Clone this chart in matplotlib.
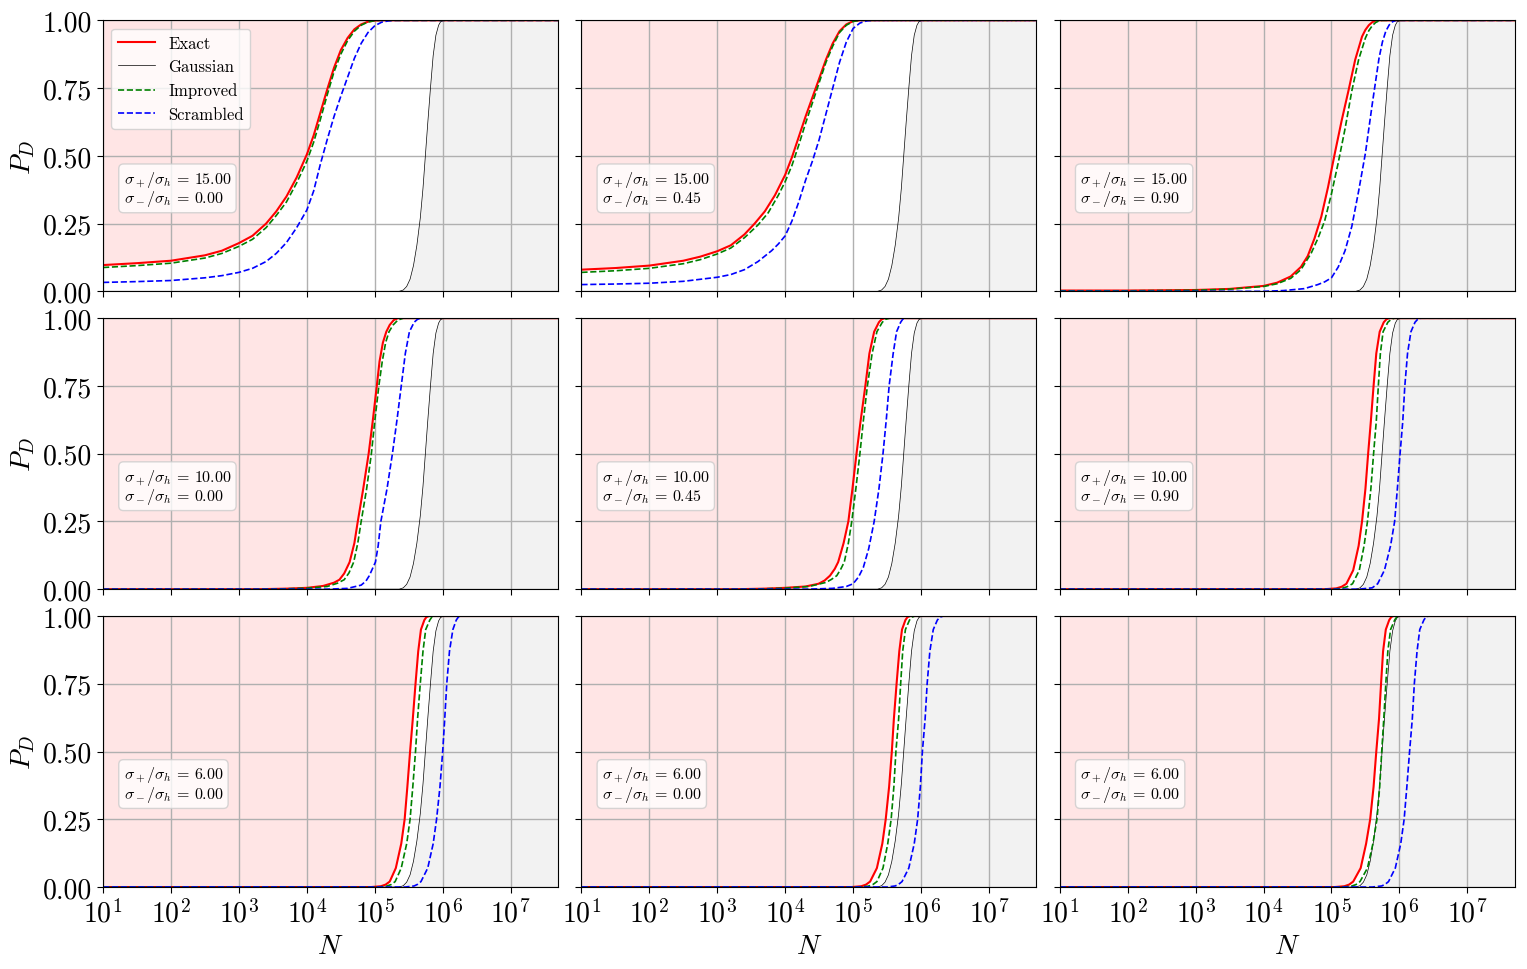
import numpy as np
import matplotlib
matplotlib.use("Agg")
import matplotlib.pyplot as plt
from matplotlib.ticker import FixedLocator, FormatStrFormatter

plt.rcParams["mathtext.fontset"] = "cm"
plt.rcParams["font.family"] = "serif"
plt.rcParams["font.serif"] = ["cmr10"]
plt.rcParams["axes.formatter.use_mathtext"] = True
plt.rcParams["axes.unicode_minus"] = False

# curves, (log10 N, P_D)
gaussian = [(1.0, 0.0), (5.36, 0.0), (5.42, 0.005), (5.47, 0.018), (5.52, 0.045), (5.57, 0.095),
            (5.62, 0.17), (5.67, 0.27), (5.71, 0.38), (5.745, 0.5), (5.78, 0.62), (5.82, 0.75),
            (5.86, 0.87), (5.9, 0.945), (5.94, 0.982), (5.97, 0.995), (6.02, 1.0), (7.7, 1.0)]

# row 1: sigma+/sigma_h = 15
exact_r1c1 = [(1.0, 0.097), (1.5, 0.104), (2.0, 0.113), (2.5, 0.133), (2.75, 0.15), (3.0, 0.178),
              (3.2, 0.205), (3.4, 0.25), (3.55, 0.295), (3.7, 0.35), (3.85, 0.42), (4.0, 0.505),
              (4.1, 0.575), (4.2, 0.66), (4.3, 0.745), (4.4, 0.825), (4.5, 0.89), (4.6, 0.935),
              (4.7, 0.967), (4.8, 0.985), (4.9, 0.995), (5.0, 0.999), (5.1, 1.0), (7.7, 1.0)]
improved_r1c1 = [(1.0, 0.088), (1.5, 0.095), (2.0, 0.104), (2.5, 0.123), (2.75, 0.14), (3.0, 0.166),
                 (3.2, 0.192), (3.4, 0.235), (3.55, 0.28), (3.7, 0.33), (3.85, 0.40), (4.0, 0.48),
                 (4.1, 0.55), (4.2, 0.635), (4.3, 0.725), (4.4, 0.81), (4.5, 0.875), (4.6, 0.925),
                 (4.7, 0.96), (4.8, 0.982), (4.9, 0.994), (5.0, 0.999), (5.1, 1.0), (7.7, 1.0)]
scrambled_r1c1 = [(1.0, 0.033), (1.5, 0.036), (2.0, 0.04), (2.5, 0.05), (2.75, 0.058), (3.0, 0.07),
                  (3.2, 0.085), (3.4, 0.11), (3.55, 0.14), (3.7, 0.18), (3.85, 0.235), (4.0, 0.3),
                  (4.1, 0.37), (4.2, 0.47), (4.3, 0.56), (4.4, 0.645), (4.5, 0.72), (4.6, 0.79),
                  (4.7, 0.86), (4.8, 0.915), (4.9, 0.955), (5.0, 0.98), (5.1, 0.993), (5.2, 0.998),
                  (5.3, 1.0), (7.7, 1.0)]

exact_r1c2 = [(1.0, 0.08), (1.5, 0.086), (2.0, 0.095), (2.5, 0.113), (2.75, 0.128), (3.0, 0.148),
              (3.2, 0.17), (3.4, 0.21), (3.55, 0.25), (3.7, 0.295), (3.85, 0.355), (4.0, 0.43),
              (4.1, 0.495), (4.2, 0.57), (4.3, 0.645), (4.4, 0.715), (4.5, 0.785), (4.6, 0.855),
              (4.7, 0.915), (4.8, 0.96), (4.9, 0.985), (5.0, 0.997), (5.1, 1.0), (7.7, 1.0)]
improved_r1c2 = [(1.0, 0.07), (1.5, 0.076), (2.0, 0.085), (2.5, 0.102), (2.75, 0.117), (3.0, 0.138),
                 (3.2, 0.16), (3.4, 0.198), (3.6, 0.245), (3.75, 0.29), (3.9, 0.355), (4.0, 0.405),
                 (4.1, 0.465), (4.2, 0.54), (4.3, 0.62), (4.4, 0.695), (4.5, 0.77), (4.6, 0.845),
                 (4.7, 0.905), (4.8, 0.955), (4.9, 0.982), (5.0, 0.996), (5.1, 1.0), (7.7, 1.0)]
scrambled_r1c2 = [(1.0, 0.025), (1.5, 0.027), (2.0, 0.03), (2.5, 0.037), (3.0, 0.052), (3.2, 0.062),
                  (3.4, 0.08), (3.6, 0.11), (3.8, 0.15), (3.9, 0.175), (4.0, 0.205), (4.1, 0.26),
                  (4.2, 0.33), (4.3, 0.41), (4.4, 0.48), (4.5, 0.56), (4.6, 0.655), (4.7, 0.75),
                  (4.8, 0.845), (4.9, 0.92), (5.0, 0.97), (5.1, 0.99), (5.2, 0.998), (5.3, 1.0),
                  (7.7, 1.0)]

exact_r1c3 = [(1.0, 0.003), (2.0, 0.003), (3.0, 0.005), (3.5, 0.009), (4.0, 0.02), (4.2, 0.032),
              (4.4, 0.055), (4.55, 0.09), (4.65, 0.13), (4.75, 0.195), (4.85, 0.275), (4.95, 0.385),
              (5.05, 0.51), (5.15, 0.63), (5.25, 0.74), (5.35, 0.855), (5.45, 0.94), (5.5, 0.965),
              (5.55, 0.982), (5.6, 0.993), (5.65, 0.999), (5.7, 1.0), (7.7, 1.0)]
improved_r1c3 = [(1.0, 0.002), (2.0, 0.002), (3.0, 0.004), (3.5, 0.008), (4.0, 0.018), (4.2, 0.028),
                 (4.4, 0.048), (4.55, 0.08), (4.7, 0.14), (4.8, 0.195), (4.9, 0.26), (5.0, 0.36),
                 (5.1, 0.475), (5.2, 0.6), (5.3, 0.74), (5.4, 0.855), (5.5, 0.935), (5.55, 0.962),
                 (5.6, 0.98), (5.65, 0.992), (5.7, 0.998), (5.75, 1.0), (7.7, 1.0)]
scrambled_r1c3 = [(1.0, 0.0), (4.0, 0.0), (4.3, 0.003), (4.6, 0.01), (4.8, 0.025), (4.9, 0.035),
                  (5.0, 0.05), (5.1, 0.09), (5.2, 0.15), (5.3, 0.24), (5.4, 0.37), (5.5, 0.51),
                  (5.6, 0.69), (5.7, 0.86), (5.75, 0.92), (5.8, 0.96), (5.85, 0.983), (5.9, 0.995),
                  (5.95, 1.0), (7.7, 1.0)]

# row 2: sigma+/sigma_h = 10
exact_r2c1 = [(1.0, 0.0), (3.3, 0.0), (3.7, 0.002), (4.0, 0.005), (4.24, 0.012), (4.4, 0.024),
              (4.48, 0.035), (4.55, 0.058), (4.63, 0.1), (4.7, 0.17), (4.75, 0.25), (4.83, 0.37),
              (4.91, 0.5), (4.97, 0.62), (5.03, 0.75), (5.07, 0.84), (5.12, 0.91), (5.17, 0.95),
              (5.22, 0.975), (5.28, 0.993), (5.34, 1.0), (7.7, 1.0)]
improved_r2c1 = [(1.0, 0.0), (3.3, 0.0), (3.7, 0.0015), (4.0, 0.004), (4.3, 0.01), (4.45, 0.022),
                 (4.55, 0.035), (4.62, 0.06), (4.69, 0.1), (4.75, 0.17), (4.8, 0.25), (4.88, 0.37),
                 (4.95, 0.5), (5.0, 0.62), (5.06, 0.75), (5.11, 0.84), (5.16, 0.91), (5.21, 0.95),
                 (5.27, 0.975), (5.34, 0.993), (5.42, 1.0), (7.7, 1.0)]
scrambled_r2c1 = [(1.0, 0.0), (4.3, 0.0), (4.6, 0.003), (4.8, 0.015), (4.87, 0.03), (4.92, 0.05),
                  (5.01, 0.1), (5.05, 0.16), (5.09, 0.25), (5.18, 0.37), (5.26, 0.5), (5.33, 0.63),
                  (5.39, 0.75), (5.45, 0.87), (5.51, 0.95), (5.58, 0.985), (5.63, 0.996),
                  (5.68, 1.0), (7.7, 1.0)]

exact_r2c2 = [(1.0, 0.0), (3.3, 0.0), (3.7, 0.002), (4.0, 0.005), (4.3, 0.01), (4.49, 0.02),
              (4.58, 0.032), (4.66, 0.05), (4.73, 0.075), (4.78, 0.1), (4.86, 0.17), (4.93, 0.25),
              (4.99, 0.37), (5.05, 0.5), (5.11, 0.62), (5.18, 0.75), (5.24, 0.87), (5.31, 0.95),
              (5.38, 0.985), (5.42, 0.996), (5.47, 1.0), (7.7, 1.0)]
improved_r2c2 = [(1.0, 0.0), (3.3, 0.0), (3.7, 0.0015), (4.0, 0.004), (4.35, 0.01), (4.6, 0.025),
                 (4.68, 0.036), (4.76, 0.05), (4.82, 0.075), (4.87, 0.1), (4.93, 0.17), (4.98, 0.25),
                 (5.04, 0.37), (5.10, 0.5), (5.15, 0.62), (5.21, 0.75), (5.28, 0.87), (5.35, 0.95),
                 (5.43, 0.985), (5.48, 0.996), (5.54, 1.0), (7.7, 1.0)]
scrambled_r2c2 = [(1.0, 0.0), (4.3, 0.0), (4.7, 0.003), (4.9, 0.01), (5.0, 0.02), (5.08, 0.045),
                  (5.15, 0.08), (5.23, 0.15), (5.31, 0.25), (5.38, 0.37), (5.44, 0.5), (5.49, 0.63),
                  (5.53, 0.75), (5.59, 0.87), (5.64, 0.95), (5.7, 0.985), (5.73, 0.996),
                  (5.77, 1.0), (7.7, 1.0)]

exact_r2c3 = [(1.0, 0.0), (4.9, 0.0), (5.07, 0.003), (5.15, 0.009), (5.22, 0.02), (5.32, 0.07),
              (5.4, 0.16), (5.45, 0.25), (5.5, 0.37), (5.54, 0.5), (5.58, 0.62), (5.62, 0.75),
              (5.66, 0.87), (5.71, 0.95), (5.77, 0.985), (5.81, 0.996), (5.85, 1.0), (7.7, 1.0)]
improved_r2c3 = [(1.0, 0.0), (5.0, 0.0), (5.15, 0.003), (5.23, 0.009), (5.31, 0.02), (5.41, 0.07),
                 (5.48, 0.16), (5.53, 0.25), (5.58, 0.37), (5.62, 0.5), (5.66, 0.62), (5.69, 0.75),
                 (5.72, 0.87), (5.76, 0.95), (5.83, 0.985), (5.88, 0.996), (5.93, 1.0), (7.7, 1.0)]
scrambled_r2c3 = [(1.0, 0.0), (5.4, 0.0), (5.6, 0.005), (5.68, 0.02), (5.78, 0.07), (5.87, 0.16),
                  (5.93, 0.25), (5.97, 0.37), (6.01, 0.5), (6.05, 0.62), (6.08, 0.75), (6.12, 0.87),
                  (6.17, 0.95), (6.23, 0.985), (6.27, 0.996), (6.32, 1.0), (7.7, 1.0)]

# row 3: sigma+/sigma_h = 6
exact_r3c1 = [(1.0, 0.0), (4.95, 0.0), (5.09, 0.003), (5.16, 0.009), (5.22, 0.02), (5.31, 0.07),
              (5.39, 0.16), (5.44, 0.25), (5.48, 0.37), (5.52, 0.5), (5.56, 0.62), (5.6, 0.75),
              (5.64, 0.87), (5.68, 0.95), (5.73, 0.985), (5.76, 0.996), (5.8, 1.0), (7.7, 1.0)]
improved_r3c1 = [(1.0, 0.0), (5.05, 0.0), (5.17, 0.003), (5.24, 0.009), (5.3, 0.02), (5.39, 0.07),
                 (5.47, 0.16), (5.52, 0.25), (5.56, 0.37), (5.6, 0.5), (5.63, 0.62), (5.67, 0.75),
                 (5.71, 0.87), (5.75, 0.95), (5.81, 0.985), (5.84, 0.996), (5.88, 1.0), (7.7, 1.0)]
scrambled_r3c1 = [(1.0, 0.0), (5.45, 0.0), (5.58, 0.004), (5.63, 0.01), (5.68, 0.02), (5.78, 0.07),
                  (5.86, 0.16), (5.91, 0.25), (5.96, 0.37), (6.0, 0.5), (6.03, 0.62), (6.06, 0.75),
                  (6.1, 0.87), (6.15, 0.95), (6.2, 0.985), (6.23, 0.996), (6.27, 1.0), (7.7, 1.0)]

exact_r3c2 = [(1.0, 0.0), (4.98, 0.0), (5.12, 0.003), (5.19, 0.009), (5.25, 0.02), (5.35, 0.07),
              (5.43, 0.16), (5.48, 0.25), (5.53, 0.37), (5.57, 0.5), (5.6, 0.62), (5.64, 0.75),
              (5.68, 0.87), (5.72, 0.95), (5.77, 0.985), (5.8, 0.996), (5.84, 1.0), (7.7, 1.0)]
improved_r3c2 = [(1.0, 0.0), (5.08, 0.0), (5.22, 0.003), (5.29, 0.009), (5.35, 0.02), (5.44, 0.07),
                 (5.51, 0.16), (5.56, 0.25), (5.6, 0.37), (5.63, 0.5), (5.67, 0.62), (5.7, 0.75),
                 (5.73, 0.87), (5.77, 0.95), (5.83, 0.985), (5.87, 0.996), (5.91, 1.0), (7.7, 1.0)]
scrambled_r3c2 = [(1.0, 0.0), (5.5, 0.0), (5.62, 0.004), (5.67, 0.01), (5.72, 0.02), (5.82, 0.07),
                  (5.9, 0.16), (5.95, 0.25), (5.99, 0.37), (6.02, 0.5), (6.06, 0.62), (6.09, 0.75),
                  (6.13, 0.87), (6.18, 0.95), (6.24, 0.985), (6.28, 0.996), (6.33, 1.0), (7.7, 1.0)]

exact_r3c3 = [(1.0, 0.0), (5.05, 0.0), (5.19, 0.003), (5.26, 0.009), (5.32, 0.02), (5.43, 0.07),
              (5.51, 0.16), (5.57, 0.25), (5.62, 0.37), (5.66, 0.5), (5.7, 0.62), (5.73, 0.75),
              (5.76, 0.87), (5.8, 0.95), (5.85, 0.985), (5.88, 0.996), (5.91, 1.0), (7.7, 1.0)]
improved_r3c3 = [(1.0, 0.0), (5.15, 0.0), (5.29, 0.003), (5.36, 0.009), (5.42, 0.02), (5.53, 0.07),
                 (5.61, 0.16), (5.67, 0.25), (5.71, 0.37), (5.74, 0.5), (5.77, 0.62), (5.8, 0.75),
                 (5.83, 0.87), (5.87, 0.95), (5.93, 0.985), (5.96, 0.996), (6.0, 1.0), (7.7, 1.0)]
scrambled_r3c3 = [(1.0, 0.0), (5.6, 0.0), (5.74, 0.004), (5.79, 0.01), (5.84, 0.02), (5.94, 0.07),
                  (6.02, 0.16), (6.07, 0.25), (6.11, 0.37), (6.15, 0.5), (6.19, 0.62), (6.22, 0.75),
                  (6.26, 0.87), (6.3, 0.95), (6.36, 0.985), (6.39, 0.996), (6.43, 1.0), (7.7, 1.0)]

sigma_plus = [15.0, 10.0, 6.0]
sigma_minus = [[0.0, 0.45, 0.90],
               [0.0, 0.45, 0.90],
               [0.0, 0.0, 0.0]]

exact_curves = [[exact_r1c1, exact_r1c2, exact_r1c3],
                [exact_r2c1, exact_r2c2, exact_r2c3],
                [exact_r3c1, exact_r3c2, exact_r3c3]]
improved_curves = [[improved_r1c1, improved_r1c2, improved_r1c3],
                   [improved_r2c1, improved_r2c2, improved_r2c3],
                   [improved_r3c1, improved_r3c2, improved_r3c3]]
scrambled_curves = [[scrambled_r1c1, scrambled_r1c2, scrambled_r1c3],
                    [scrambled_r2c1, scrambled_r2c2, scrambled_r2c3],
                    [scrambled_r3c1, scrambled_r3c2, scrambled_r3c3]]


def unpack(points):
    arr = np.array(points)
    return 10 ** arr[:, 0], arr[:, 1]


fig, axes = plt.subplots(3, 3, figsize=(15.27, 9.70), dpi=100, sharex=True, sharey=True)
fig.subplots_adjust(left=0.0675, right=0.992, bottom=0.0845, top=0.978,
                    wspace=0.0513, hspace=0.099)

gx, gy = unpack(gaussian)

for i in range(3):
    for j in range(3):
        ax = axes[i, j]
        ex, ey = unpack(exact_curves[i][j])
        ix, iy = unpack(improved_curves[i][j])
        sx, sy = unpack(scrambled_curves[i][j])

        ax.fill_between(ex, ey, 1.0, color="red", alpha=0.1, linewidth=0)
        ax.fill_between(gx, 0.0, gy, color="black", alpha=0.05, linewidth=0)

        ax.plot(ex, ey, color="red", lw=1.5, label="Exact")
        ax.plot(gx, gy, color="black", lw=0.5, label="Gaussian")
        ax.plot(ix, iy, color="green", lw=1.2, ls="--", label="Improved")
        ax.plot(sx, sy, color="blue", lw=1.2, ls="--", label="Scrambled")

        ax.set_xscale("log")
        ax.set_xlim(10, 5e7)
        ax.set_ylim(0, 1)
        ax.xaxis.set_major_locator(FixedLocator([1e1, 1e2, 1e3, 1e4, 1e5, 1e6, 1e7]))
        ax.xaxis.set_minor_locator(FixedLocator([]))
        ax.yaxis.set_major_locator(FixedLocator([0, 0.25, 0.5, 0.75, 1.0]))
        ax.yaxis.set_major_formatter(FormatStrFormatter("%.2f"))
        ax.tick_params(labelsize=20, length=4.5)
        ax.grid(True, color="#b0b0b0", lw=1.0)

        label = (r"$\sigma_+/\sigma_h \,=\, %.2f$" % sigma_plus[i] + "\n" +
                 r"$\sigma_-/\sigma_h \,=\, %.2f$" % sigma_minus[i][j])
        ax.text(0.045, 0.38, label, transform=ax.transAxes, fontsize=11.5,
                ha="left", va="center", linespacing=0.95,
                bbox=dict(boxstyle="round", facecolor="white", edgecolor="0.8", alpha=0.8))

        if j == 0:
            ax.set_ylabel(r"$P_D$", fontsize=20)
        if i == 2:
            ax.set_xlabel(r"$N$", fontsize=20)

axes[0, 0].legend(loc="upper left", fontsize=12, handlelength=2.2)

fig.savefig("out.png", dpi=100)
plt.close(fig)
